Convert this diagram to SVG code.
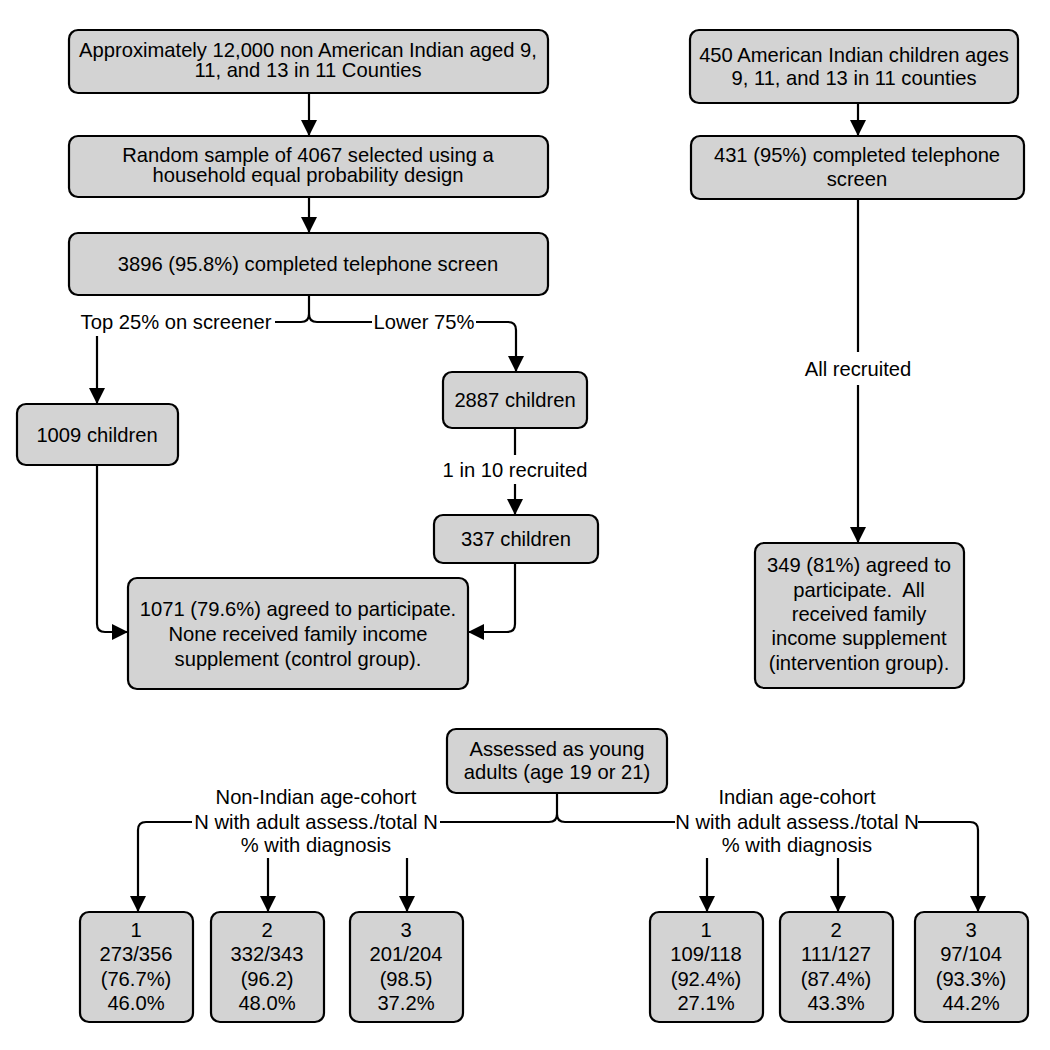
<svg xmlns="http://www.w3.org/2000/svg" width="1050" height="1050" viewBox="0 0 1050 1050">
<defs>
<marker id="ah" markerUnits="userSpaceOnUse" markerWidth="16" markerHeight="18" viewBox="0 0 16 18" refX="16" refY="8" orient="auto">
<path d="M0,0 L16,8 L0,16 Z" fill="#000"/>
</marker>
<style>
.box{fill:#d3d3d3;stroke:#000;stroke-width:2.2}
.c{fill:none;stroke:#000;stroke-width:2.2}
.a{marker-end:url(#ah)}
text{font-family:"Liberation Sans",Arial,sans-serif;font-size:20.2px;fill:#000;text-anchor:middle}
</style>
</defs>
<rect width="1050" height="1050" fill="#fff"/>
<g id="connectors">
<path class="c a" d="M309,93 V136"/>
<path class="c a" d="M309,197 V233"/>
<path class="c" d="M309,295 V314"/>
<path class="c" d="M275,322 H301 Q309,322 309,314 Q309,322 317,322 H372"/>
<path class="c a" d="M476,322 H508 Q516,322 516,330 V372"/>
<path class="c a" d="M97,336 V404"/>
<path class="c" d="M515,428 V455"/>
<path class="c a" d="M515,484 V515"/>
<path class="c a" d="M97,465 V624 Q97,632 105,632 H128"/>
<path class="c a" d="M515,563 V624 Q515,632 507,632 H468"/>
<path class="c a" d="M858,103 V136"/>
<path class="c" d="M858,199 V352"/>
<path class="c a" d="M858,385 V543"/>
<path class="c" d="M557,793 V814"/>
<path class="c" d="M440,822 H549 Q557,822 557,814 Q557,822 565,822 H675"/>
<path class="c a" d="M192,822 H146 Q138,822 138,830 V912"/>
<path class="c a" d="M918,822 H970 Q978,822 978,830 V912"/>
<path class="c a" d="M268,858 V912"/>
<path class="c a" d="M407,858 V912"/>
<path class="c a" d="M707,858 V912"/>
<path class="c a" d="M838,858 V912"/>
<text x="176" y="329">Top 25% on screener</text>
<text x="424" y="329">Lower 75%</text>
<text x="515" y="477">1 in 10 recruited</text>
<text x="858" y="376">All recruited</text>
<text x="316" y="804">Non-Indian age-cohort</text>
<text x="316" y="829">N with adult assess./total N</text>
<text x="316" y="852">% with diagnosis</text>
<text x="797" y="804">Indian age-cohort</text>
<text x="797" y="829">N with adult assess./total N</text>
<text x="797" y="852">% with diagnosis</text>
</g>
<g id="n1"><rect class="box" x="69" y="30" width="479" height="63" rx="9"/>
<text x="308" y="57">Approximately 12,000 non American Indian aged 9,</text>
<text x="308" y="77">11, and 13 in 11 Counties</text></g>
<g id="n2"><rect class="box" x="69" y="136" width="479" height="61" rx="9"/>
<text x="308" y="162">Random sample of 4067 selected using a</text>
<text x="308" y="182">household equal probability design</text></g>
<g id="n3"><rect class="box" x="69" y="233" width="479" height="62" rx="9"/>
<text x="308" y="271">3896 (95.8%) completed telephone screen</text></g>
<g id="n4"><rect class="box" x="17" y="404" width="161" height="61" rx="9"/>
<text x="97" y="442">1009 children</text></g>
<g id="n5"><rect class="box" x="443" y="372" width="144" height="56" rx="9"/>
<text x="515" y="407">2887 children</text></g>
<g id="n6"><rect class="box" x="434" y="515" width="164" height="48" rx="9"/>
<text x="516" y="546">337 children</text></g>
<g id="n7"><rect class="box" x="128" y="578" width="340" height="111" rx="9"/>
<text x="298" y="616">1071 (79.6%) agreed to participate.</text>
<text x="298" y="641">None received family income</text>
<text x="298" y="666">supplement (control group).</text></g>
<g id="n8"><rect class="box" x="690" y="30" width="328" height="73" rx="9"/>
<text x="854" y="62">450 American Indian children ages</text>
<text x="854" y="85">9, 11, and 13 in 11 counties</text></g>
<g id="n9"><rect class="box" x="691" y="136" width="333" height="63" rx="9"/>
<text x="857" y="162">431 (95%) completed telephone</text>
<text x="857" y="186">screen</text></g>
<g id="n10"><rect class="box" x="755" y="543" width="209" height="145" rx="9"/>
<text x="859" y="572">349 (81%) agreed to</text>
<text x="859" y="597">participate.&#160; All</text>
<text x="859" y="621">received family</text>
<text x="859" y="645">income supplement</text>
<text x="859" y="670">(intervention group).</text></g>
<g id="n11"><rect class="box" x="447" y="729" width="220" height="64" rx="9"/>
<text x="557" y="756">Assessed as young</text>
<text x="557" y="779">adults (age 19 or 21)</text></g>
<g id="n12"><rect class="box" x="80" y="912" width="113" height="110" rx="9"/>
<text x="136" y="937">1</text><text x="136" y="961">273/356</text><text x="136" y="986">(76.7%)</text><text x="136" y="1010">46.0%</text></g>
<g id="n13"><rect class="box" x="211" y="912" width="113" height="110" rx="9"/>
<text x="267" y="937">2</text><text x="267" y="961">332/343</text><text x="267" y="986">(96.2)</text><text x="267" y="1010">48.0%</text></g>
<g id="n14"><rect class="box" x="350" y="912" width="113" height="110" rx="9"/>
<text x="406" y="937">3</text><text x="406" y="961">201/204</text><text x="406" y="986">(98.5)</text><text x="406" y="1010">37.2%</text></g>
<g id="n15"><rect class="box" x="650" y="912" width="113" height="110" rx="9"/>
<text x="706" y="937">1</text><text x="706" y="961">109/118</text><text x="706" y="986">(92.4%)</text><text x="706" y="1010">27.1%</text></g>
<g id="n16"><rect class="box" x="780" y="912" width="113" height="110" rx="9"/>
<text x="836" y="937">2</text><text x="836" y="961">111/127</text><text x="836" y="986">(87.4%)</text><text x="836" y="1010">43.3%</text></g>
<g id="n17"><rect class="box" x="915" y="912" width="113" height="110" rx="9"/>
<text x="971" y="937">3</text><text x="971" y="961">97/104</text><text x="971" y="986">(93.3%)</text><text x="971" y="1010">44.2%</text></g>
</svg>
